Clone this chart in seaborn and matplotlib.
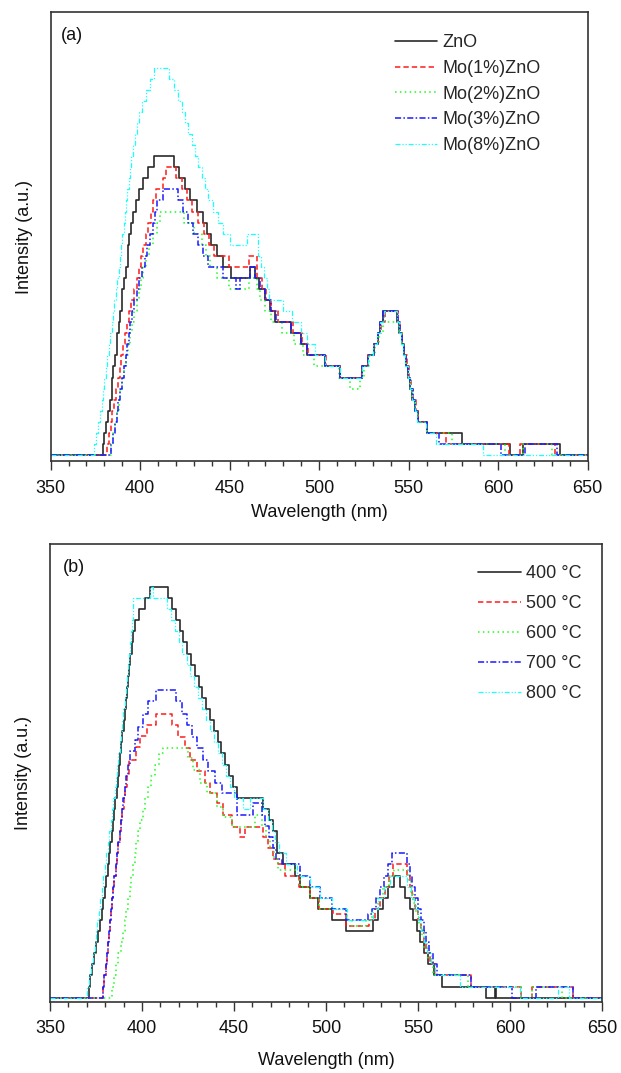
import matplotlib
matplotlib.use("Agg")
import matplotlib.pyplot as plt
from matplotlib.ticker import MultipleLocator
import seaborn as sns

# ---------------- Panel (a): Mo-doped ZnO (step data: wavelength, level) ----------------
a_zno_x = [350, 379, 380, 381, 382, 383, 384, 385, 386, 387, 388, 389, 390, 391, 392, 393, 394, 395, 396, 397.6,
           399.5, 401.7, 404.5, 407.7, 418.9, 421.9, 425, 427.8, 431.5, 434.9, 437.1, 439.4, 442.7, 446.4, 451,
           461.3, 464.1, 466.5, 469.7, 472.5, 475.3, 484, 489.6, 493, 503.3, 511.7, 523.8, 527, 530.4, 532.7, 534,
           535.5, 543.6, 544.8, 546, 547.2, 548.4, 549.6, 550.8, 552, 553.5, 555, 560, 580, 606.7, 614, 634.5, 650]
a_zno_y = [0, 1, 2, 3, 4, 5, 7, 8, 9, 11, 12, 13, 15, 16, 17, 19, 20, 21, 22, 23,
           24, 25, 26, 27, 26, 25, 24, 23, 22, 21, 20, 19, 18, 17, 16,
           17, 16, 15, 14, 13, 12, 11, 10, 9, 8, 7, 8, 9, 10, 11, 12,
           13, 12, 11, 10, 9, 8, 7, 6, 5, 4, 3, 2, 1, 0, 1, 0, 0]

a_mo1_x = [350, 381.3, 382.5, 383.5, 384.5, 385.5, 386.5, 387.5, 388.5, 389.5, 390.5, 391.5, 392.5, 393.5, 395,
           396.5, 398, 399.2, 400.5, 401.7, 403, 404.5, 406, 407.3, 409, 412.5, 414.6, 420.1, 423.5, 426, 429,
           432.5, 435.5, 438.5, 441, 449.5, 461, 465.4, 468, 470.5, 473, 477, 485.5, 490.5, 494, 504, 511.7, 523.8,
           527.3, 530.7, 533, 534.5, 536.5, 544, 545.2, 546.4, 547.6, 548.8, 550, 551.2, 552.4, 553.8, 555.4, 560,
           571, 606, 612, 632, 650]
a_mo1_y = [0, 1, 2, 3, 4, 5, 6, 7, 8, 9, 10, 11, 12, 13, 14,
           15, 16, 17, 18, 19, 20, 21, 22, 23, 24, 25, 26, 25, 24, 23, 22,
           21, 20, 19, 18, 17, 18, 16, 15, 14, 13, 12, 11, 10, 9, 8, 7, 8,
           9, 10, 11, 12, 13, 12, 11, 10, 9, 8, 7, 6, 5, 4, 3, 2,
           1, 0, 1, 0, 0]

a_mo2_x = [350, 383.7, 385, 386, 387, 388, 389, 390, 391, 392, 393, 394.2, 395.5, 396.8, 398, 399.2, 400.4, 401.8,
           403.2, 405, 407, 409.5, 411, 424.6, 430, 434.5, 436.7, 439, 443, 449.5, 461, 465.4, 467, 470, 473, 479,
           486, 491, 497, 511, 517.2, 522.8, 525, 528, 531, 533.5, 535.5, 544.8, 546, 547.2, 548.4, 549.6, 550.8,
           552, 553.5, 555, 560, 574, 604, 614, 630, 650]
a_mo2_y = [0, 1, 2, 3, 4, 5, 6, 7, 8, 9, 10, 11, 12, 13, 14, 15, 16, 17,
           18, 19, 20, 21, 22, 21, 20, 19, 18, 17, 16, 15, 16, 15, 14, 13, 12, 11,
           10, 9, 8, 7, 6, 7, 8, 9, 10, 11, 12, 11, 10, 9, 8, 7, 6,
           5, 4, 3, 2, 1, 0, 1, 0, 0]

a_mo3_x = [350, 383.7, 384.8, 385.8, 386.8, 387.8, 388.8, 389.8, 390.8, 391.8, 392.8, 393.6, 394.5, 395.6, 396.8,
           398, 399.2, 400.8, 402.5, 404, 405.5, 407.3, 408.5, 409.6, 412.9, 421.3, 424.1, 426.9, 429.7, 432.5,
           435.3, 438, 446, 453.5, 456, 461.3, 464.4, 466.8, 470, 472.8, 475.6, 484.3, 489.9, 493.3, 503.5, 511.7,
           523.8, 527, 530.4, 532.7, 534, 535.5, 543.8, 545, 546.2, 547.4, 548.6, 549.8, 551, 552.2, 553.7, 555.2,
           560, 567, 601.5, 615, 633, 650]
a_mo3_y = [0, 1, 2, 3, 4, 5, 6, 7, 8, 9, 10, 11, 12, 13, 14,
           15, 16, 17, 18, 19, 20, 21, 22, 23, 24, 23, 22, 21, 20, 19,
           18, 17, 16, 15, 16, 17, 16, 15, 14, 13, 12, 11, 10, 9, 8, 7,
           8, 9, 10, 11, 12, 13, 12, 11, 10, 9, 8, 7, 6, 5, 4, 3,
           2, 1, 0, 1, 0, 0]

a_mo8_x = [350, 374.2, 375.5, 376.5, 377.5, 378.5, 379.3, 380, 380.8, 381.6, 382.4, 383.2, 384, 384.8, 385.6,
           386.4, 387.2, 388, 388.7, 389.4, 390.1, 390.8, 391.5, 392.2, 392.9, 393.6, 394.3, 395, 396, 397, 398,
           399.2, 401, 403, 405.5, 407.7, 416.3, 418.9, 421.3, 423.2, 425, 426.9, 428.7, 430.6, 432.5, 434.3, 436.2,
           438, 440.8, 443.6, 446.4, 450.2, 459.5, 466, 467.5, 469, 471, 472, 479.7, 485, 489.6, 493, 497.4, 503.3,
           511.7, 523.8, 527, 530, 532.5, 534, 536, 543.4, 544.6, 545.8, 547, 548.2, 549.4, 550.6, 551.8, 553.3,
           554.8, 559.5, 565, 591.7, 650]
a_mo8_y = [0, 1, 2, 3, 4, 5, 6, 7, 8, 9, 10, 11, 12, 13, 14,
           15, 16, 17, 18, 19, 20, 21, 22, 23, 24, 25, 26, 27, 28, 29, 30,
           31, 32, 33, 34, 35, 34, 33, 32, 31, 30, 29, 28, 27, 26, 25, 24,
           23, 22, 21, 20, 19, 20, 18, 17, 16, 15, 14, 13, 12, 11, 10, 9, 8,
           7, 8, 9, 10, 11, 12, 13, 12, 11, 10, 9, 8, 7, 6, 5, 4,
           3, 2, 1, 0, 0]

# ---------------- Panel (b): annealing temperature ----------------
b_400_x = [350, 371, 372, 373, 374, 375, 376, 377, 378, 379, 380, 380.7, 381.4, 382.1, 382.8, 383.5, 384.2, 384.9,
           385.6, 386.3, 387, 387.6, 388.2, 388.8, 389.4, 390, 390.6, 391.2, 391.8, 392.4, 393, 393.7, 394.5, 395.3,
           396.2, 398.5, 401.5, 404.3, 414.3, 416.4, 418.4, 420.5, 422.5, 424.6, 426.7, 428.7, 430.8, 432.8, 434.9,
           437, 439, 441.1, 443.1, 445.2, 447.3, 449.3, 451.4, 465.9, 469, 471.3, 473.4, 476.6, 483, 485.9, 491.3,
           495.8, 503.1, 510.9, 525.4, 528.4, 531.2, 533.9, 536.7, 540.3, 543, 545.7, 547.5, 549.2, 551, 553, 555.5,
           558.7, 563.3, 586.9, 592, 592.6, 650]
b_400_y = [0, 1, 2, 3, 4, 5, 6, 7, 8, 9, 10, 11, 12, 13, 14, 15, 16, 17,
           18, 19, 20, 21, 22, 23, 24, 25, 26, 27, 28, 29, 30, 31, 32, 33,
           34, 35, 36, 37, 36, 35, 34, 33, 32, 31, 30, 29, 28, 27, 26,
           25, 24, 23, 22, 21, 20, 19, 18, 17, 16, 15, 13, 12, 11, 10, 9,
           8, 7, 6, 7, 8, 9, 10, 11, 10, 9, 8, 7, 6, 5, 4, 3,
           2, 1, 0, 1, 0, 0]

b_500_x = [350, 379, 379.6, 380.2, 380.8, 381.4, 382, 382.6, 383.2, 383.8, 384.4, 385, 385.7, 386.4, 387.1, 387.8,
           388.5, 389.3, 390.1, 390.9, 391.8, 393.2, 396.7, 398.9, 402.5, 407.6, 416.1, 419.7, 423.4, 426.1, 429.7,
           434.2, 437, 440.6, 444.2, 448.7, 453.3, 456, 466, 468.5, 471, 474, 477.5, 485.5, 491.5, 496, 504, 511,
           523.5, 526.5, 529.5, 532, 534.5, 536.5, 544, 545.5, 547, 548.5, 550, 551.5, 553, 554.5, 556.5, 559.5,
           579, 606, 612, 634, 650]
b_500_y = [0, 1, 2, 3, 4, 5, 6, 7, 8, 9, 10, 11, 12, 13, 14, 15,
           16, 17, 18, 19, 20, 21.4, 22.6, 23.6, 24.6, 25.6, 24.6, 23.5, 22.5, 21.4, 20.4,
           19.3, 18.4, 17.5, 16.5, 15.4, 14.5, 15.4, 14.5, 13.5, 12.5, 12, 11, 10, 9, 8, 7.5, 6.5,
           7, 8, 9, 10, 11, 12, 11, 10, 9, 8, 7, 6, 5, 4, 3, 2,
           1, 0, 1, 0, 0]

b_600_x = [350, 383.5, 384.8, 386, 387.2, 388.4, 389.6, 390.6, 391.5, 392.4, 393.3, 394.2, 395.1, 396, 397, 398,
           399.1, 400.3, 401.6, 403, 404.8, 407, 409.5, 411.6, 425.2, 427.9, 431.5, 435.1, 440.6, 444.2, 448.7,
           461.4, 465, 467.5, 469.5, 471.5, 474, 486, 491.5, 496, 511.3, 514, 522, 525, 528, 531, 534, 537, 544.5,
           546, 547.5, 549, 550.5, 552, 553.5, 555.5, 558, 577, 606, 612, 628, 650]
b_600_y = [0, 1, 2, 3, 4, 5, 6, 7, 8, 9, 10, 11, 12, 13, 14, 15,
           16, 17, 18, 19, 20, 21, 22, 22.5, 21.6, 20.5, 19.3, 18.4, 17.2, 16.3, 15.4,
           16.5, 15.5, 14.5, 13.5, 12.5, 11.5, 10, 9, 8, 7, 6.5, 7, 8, 9, 10, 11, 11.5, 10.5,
           9.5, 8.5, 7.5, 6.5, 5.5, 4.5, 3.5, 2, 1, 0, 1, 0, 0]

b_700_x = [350, 379, 379.6, 380.2, 380.8, 381.4, 382, 382.6, 383.2, 383.8, 384.4, 385, 385.7, 386.4, 387.1, 387.8,
           388.5, 389.2, 389.9, 390.6, 391.4, 392.2, 393.6, 396.2, 398, 400.7, 403.4, 407.6, 418.5, 421.6, 424.3,
           427, 429.7, 433.3, 436, 439.7, 443.3, 451.4, 460.5, 465, 467, 469, 471, 473, 476, 486, 491.5, 497,
           503.5, 511, 523, 525, 527, 529.5, 531.5, 533.5, 535.7, 543.9, 545.5, 547, 548.5, 550, 551.5, 553, 554.5,
           556, 558, 560.5, 579, 601, 614, 634, 650]
b_700_y = [0, 1, 2, 3, 4, 5, 6, 7, 8, 9, 10, 11, 12, 13, 14, 15,
           16, 17, 18, 19, 20, 21, 22.2, 23.2, 24.4, 25.6, 26.7, 27.7, 26.7, 25.6, 24.6,
           23.5, 22.5, 21.4, 20.4, 19.3, 18.4, 16.5, 17.5, 16.5, 15.5, 14.5, 13.5, 12.5, 12, 11, 10, 9,
           8, 7, 7.5, 8, 9, 10, 11, 12, 13, 12, 11, 10, 9, 8, 7, 6, 5,
           4, 3, 2, 1, 0, 1, 0, 0]

b_800_x = [350, 370.3, 371.3, 372.3, 373.3, 374.2, 375, 375.8, 376.6, 377.4, 378.2, 379, 379.8, 380.6, 381.4, 382.2,
           383, 383.7, 384.4, 385.1, 385.8, 386.5, 387.2, 387.9, 388.6, 389.3, 389.9, 390.5, 391.1, 391.7, 392.3,
           392.9, 393.5, 394.1, 394.7, 395.3, 404.3, 406.2, 413.4, 415.6, 417.7, 419.9, 422, 424.2, 426.3, 428.5,
           430.6, 432.8, 434.9, 437.1, 439.2, 441.4, 443.5, 445.7, 447.8, 450, 455, 458.7, 466, 468.5, 470.5, 472.5,
           474.5, 478, 484.5, 491.3, 497, 503.1, 511.3, 525.5, 528.5, 531.5, 535, 544, 546, 548, 549.8, 551.5, 553.2,
           555, 557, 559.5, 573, 605.5, 626, 632, 650]
b_800_y = [0, 1, 2, 3, 4, 5, 6, 7, 8, 9, 10, 11, 12, 13, 14, 15,
           16, 17, 18, 19, 20, 21, 22, 23, 24, 25, 26, 27, 28, 29, 30,
           31, 32, 33, 34, 36, 37, 36, 35, 34, 33, 32, 31, 30, 29, 28,
           27, 26, 25, 24, 23, 22, 21, 20, 19, 18, 17, 18, 17, 16, 15, 14,
           13, 12, 11, 10, 9, 8, 7, 8, 9, 10, 11, 10, 9, 8, 7, 6, 5,
           4, 3, 2, 1, 0, 1, 0, 0]

labels_a = ["ZnO", "Mo(1%)ZnO", "Mo(2%)ZnO", "Mo(3%)ZnO", "Mo(8%)ZnO"]
labels_b = ["400 °C", "500 °C", "600 °C", "700 °C", "800 °C"]
x_ticks = [350, 400, 450, 500, 550, 600, 650]

series_a = [(a_zno_x, a_zno_y), (a_mo1_x, a_mo1_y), (a_mo2_x, a_mo2_y), (a_mo3_x, a_mo3_y), (a_mo8_x, a_mo8_y)]
series_b = [(b_400_x, b_400_y), (b_500_x, b_500_y), (b_600_x, b_600_y), (b_700_x, b_700_y), (b_800_x, b_800_y)]

colors = ["#2a2a2a", "#ff1a1a", "#1aff1a", "#1a1aff", "#1affff"]
styles = ["-", (0, (3.5, 2)), (0, (1, 2.2)), (0, (4, 1.5, 1, 1.5)), (0, (4, 1.5, 1, 1.5, 1, 1.5))]
widths = [1.2, 1.1, 1.1, 1.1, 0.9]

sns.set_theme(style="ticks")
plt.rcParams["font.family"] = ["Liberation Sans", "DejaVu Sans"]

fig = plt.figure(figsize=(6.21, 10.73), dpi=100)
ax1 = fig.add_axes([0.0816, 0.5704, 0.8648, 0.4181])
ax2 = fig.add_axes([0.0805, 0.0665, 0.8889, 0.4265])


def draw(ax, series, labels, ylim, leg_anchor, labelspacing, xlabel_y):
    for (xs, ys), lab, c, ls, lw in zip(series, labels, colors, styles, widths):
        sns.lineplot(x=xs, y=ys, ax=ax, color=c, linestyle=ls, linewidth=lw, drawstyle="steps-post",
                     estimator=None, sort=False, errorbar=None, label=lab, legend=False)
    ax.set_xlim(350, 650)
    ax.set_ylim(*ylim)
    ax.set_xticks(x_ticks)
    ax.xaxis.set_minor_locator(MultipleLocator(10))
    ax.set_yticks([])
    ax.tick_params(axis="x", which="major", direction="out", length=6.5, width=1.0, color="#333333",
                   labelsize=13, pad=7, labelcolor="#111111")
    ax.tick_params(axis="x", which="minor", direction="out", length=3.5, width=1.0, color="#333333")
    for sp in ax.spines.values():
        sp.set_visible(True)
        sp.set_linewidth(1.2)
        sp.set_color("#333333")
    ax.set_xlabel("Wavelength (nm)", fontsize=13, color="#111111")
    ax.set_ylabel("Intensity (a.u.)", fontsize=13, color="#111111")
    ax.xaxis.set_label_coords(0.5, xlabel_y)
    ax.yaxis.set_label_coords(-0.032, 0.5)
    ax.legend(loc="upper left", bbox_to_anchor=leg_anchor, frameon=False, borderpad=0, borderaxespad=0,
              handlelength=2.35, handletextpad=0.3, labelspacing=labelspacing, fontsize=13)


draw(ax1, series_a, labels_a, (-0.54, 40.0), (0.641, 0.951), 0.48, -0.096)
draw(ax2, series_b, labels_b, (-0.36, 40.87), (0.776, 0.954), 0.72, -0.11)

fig.text(61 / 621, 1 - 35 / 1073, "(a)", fontsize=13, ha="left", va="center", color="#111111")
fig.text(63 / 621, 1 - 567 / 1073, "(b)", fontsize=13, ha="left", va="center", color="#111111")

fig.savefig("out.png", dpi=100)
